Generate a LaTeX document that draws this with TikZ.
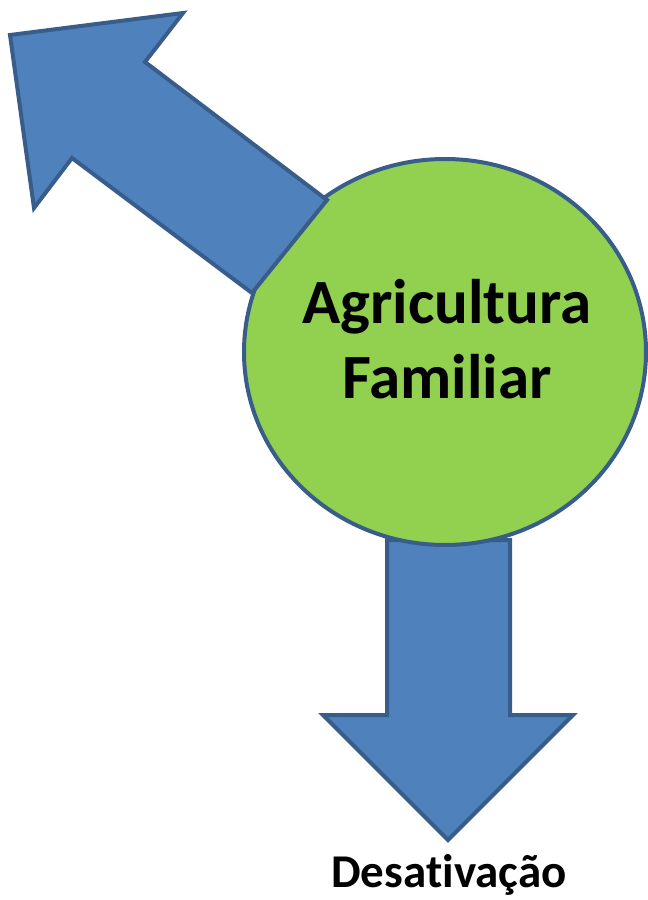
\documentclass[tikz,border=0pt]{standalone}
\usepackage{fontspec}
\setmainfont{Carlito}[Ligatures=NoCommon]
\usetikzlibrary{shapes.geometric}
\definecolor{arrowfill}{HTML}{4F81BD}
\definecolor{arrowline}{HTML}{385D8A}
\definecolor{circfill}{HTML}{92D050}
\tikzset{
  blockarrow/.style={fill=arrowfill, draw=arrowline, line width=4pt, line join=miter},
  hub/.style={ellipse, fill=circfill, draw=arrowline, line width=4pt, minimum width=402pt, minimum height=386pt, inner sep=0pt},
  label/.style={text=black, inner sep=0pt, anchor=base}
}
\begin{document}
\begin{tikzpicture}[x=1pt, y=-1pt]
\useasboundingbox (0,0) rectangle (648,900);
% bottom arrow
\draw[blockarrow] (387,540) -- (510,540) -- (510,715) -- (573,715) -- (448,840) -- (323,715) -- (387,715) -- cycle;
% hub
\node[hub] (hub) at (445,352) {};
% upper-left arrow
\draw[blockarrow] (10,35) -- (183,13) -- (145,62) -- (327,200) -- (252,293) -- (72,158) -- (34,208) -- cycle;
% texts
\node[label, font=\bfseries\fontsize{63}{72}\selectfont] (t1) at (447,323) {Agricultura};
\node[label, font=\bfseries\fontsize{63}{72}\selectfont] (t2) at (447,398) {Familiar};
\node[label, font=\bfseries\fontsize{47}{56}\selectfont] (t3) at (449,887) {Desativação};
\end{tikzpicture}
\end{document}
